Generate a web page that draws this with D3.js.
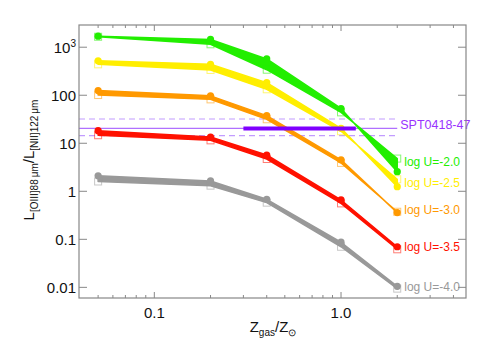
<!DOCTYPE html>
<html>
<head>
<meta charset="utf-8">
<script src="https://cdn.jsdelivr.net/npm/d3@7"></script>
<style>
  body { margin: 0; background: #fff; }
  text { font-family: "Liberation Sans", Arial, sans-serif; }
</style>
</head>
<body>
<div id="wrapper"></div>
<script>
// metallicities of the models
const zgas = [0.05, 0.2, 0.4, 1.0, 2.0];

// model series: filled circles and open squares
const labels = ["log U=-2.0", "log U=-2.5", "log U=-3.0", "log U=-3.5", "log U=-4.0"];
const colors = ["#22ee00", "#ffee00", "#ff9900", "#ff1100", "#999999"];
const circleVals = [
  [1700, 1450, 570, 53, 2.56],
  [520, 440, 183, 20.5, 1.25],
  [125, 97, 37.6, 4.5, 0.36],
  [18.3, 13.5, 5.7, 0.66, 0.07],
  [2.1, 1.64, 0.68, 0.087, 0.0105]
];
const squareVals = [
  [1650, 1150, 340, 44, 4.8],
  [440, 336, 133, 17.8, 1.78],
  [101, 82, 31.6, 3.9, 0.375],
  [14.7, 11.5, 4.7, 0.56, 0.062],
  [1.6, 1.31, 0.58, 0.07, 0.0094]
];

// SPT0418-47 observation
const sptName = "SPT0418-47";
const sptRatio = 20.4;
const sptRange = [14.4, 32];
const sptZ = [0.3, 1.2];
const sptLineEnd = 2.0;

const yTicks = [0.01, 0.1, 1, 10, 100, 1000];
const yTickLabels = ["0.01", "0.1", "1", "10", "100", "10^3"];
const xTicks = [0.1, 1.0];
const xTickLabels = ["0.1", "1.0"];
const xMinor = [0.05, 0.06, 0.07, 0.08, 0.09, 0.2, 0.3, 0.4, 0.5, 0.6, 0.7, 0.8, 0.9, 2, 3, 4];

function draw() {
  const width = 491, height = 350;
  const m = { top: 25, right: 25, bottom: 52, left: 79 };

  const svg = d3.select("#wrapper").append("svg")
    .attr("width", width)
    .attr("height", height);

  const x = d3.scaleLog().domain([0.0395, 4.67]).range([m.left, width - m.right]);
  const y = d3.scaleLog().domain([0.006, 2900]).range([height - m.bottom, m.top]);

  const plot = svg.append("g");

  // observation band
  sptRange.forEach(v => {
    plot.append("line")
      .attr("x1", x.range()[0]).attr("x2", x(sptLineEnd) - 2)
      .attr("y1", y(v)).attr("y2", y(v))
      .attr("stroke", "#c29cff")
      .attr("stroke-width", 1.2)
      .attr("stroke-dasharray", "6,4");
  });
  plot.append("line")
    .attr("x1", x.range()[0]).attr("x2", x(sptLineEnd))
    .attr("y1", y(sptRatio)).attr("y2", y(sptRatio))
    .attr("stroke", "#b070ff")
    .attr("stroke-width", 1.2);

  // series: band between circle line and square line
  const lineGen = d3.line().x(d => x(d[0])).y(d => y(d[1]));
  labels.forEach((lab, i) => {
    const c = colors[i];
    const circ = zgas.map((z, j) => [z, circleVals[i][j]]);
    const sq = zgas.map((z, j) => [z, squareVals[i][j]]);
    const poly = circ.concat(sq.slice().reverse());
    const g = plot.append("g");
    g.append("path")
      .attr("d", lineGen(poly) + "Z")
      .attr("fill", c)
      .attr("stroke", c)
      .attr("stroke-width", 1.5)
      .attr("stroke-linejoin", "round");
    g.selectAll("rect")
      .data(sq)
      .join("rect")
      .attr("x", d => x(d[0]) - 3.5)
      .attr("y", d => y(d[1]) - 3.5)
      .attr("width", 7)
      .attr("height", 7)
      .attr("fill", "none")
      .attr("stroke", c)
      .attr("stroke-opacity", 0.55)
      .attr("stroke-width", 1);
    g.selectAll("circle")
      .data(circ)
      .join("circle")
      .attr("cx", d => x(d[0]))
      .attr("cy", d => y(d[1]))
      .attr("r", 3.6)
      .attr("fill", c);
  });

  // thick SPT bar on top
  plot.append("line")
    .attr("x1", x(sptZ[0])).attr("x2", x(sptZ[1]))
    .attr("y1", y(sptRatio)).attr("y2", y(sptRatio))
    .attr("stroke", "#7f00ff")
    .attr("stroke-width", 4);
  plot.append("text")
    .attr("x", x(sptLineEnd) + 3)
    .attr("y", y(sptRatio) + 0.5)
    .attr("fill", "#9933ff")
    .attr("font-size", 12.5)
    .text(sptName);

  // series labels at right
  const labelY = [166, 187, 214, 251, 291];
  labels.forEach((lab, i) => {
    svg.append("text")
      .attr("x", x(2.0) + 7)
      .attr("y", labelY[i])
      .attr("fill", colors[i])
      .attr("font-size", 12)
      .text(lab);
  });

  // frame
  const [x0, x1] = x.range();
  const [y0, y1] = y.range();
  const axisCol = "#888";
  svg.append("rect")
    .attr("x", x0).attr("y", y1)
    .attr("width", x1 - x0).attr("height", y0 - y1)
    .attr("fill", "none")
    .attr("stroke", axisCol)
    .attr("stroke-width", 1.2);

  // y ticks (left and right, inward)
  yTicks.forEach((t, i) => {
    const yy = y(t);
    svg.append("line").attr("x1", x0).attr("x2", x0 + 8).attr("y1", yy).attr("y2", yy)
      .attr("stroke", axisCol);
    svg.append("line").attr("x1", x1).attr("x2", x1 - 8).attr("y1", yy).attr("y2", yy)
      .attr("stroke", axisCol);
    const lbl = svg.append("text")
      .attr("x", x0 - 3)
      .attr("y", yy + 5.5)
      .attr("text-anchor", "end")
      .attr("font-size", 15)
      .attr("fill", "#111");
    const s = yTickLabels[i];
    if (s.includes("^")) {
      const [b, e] = s.split("^");
      lbl.append("tspan").text(b);
      lbl.append("tspan").attr("dy", -6).attr("font-size", 10).text(e);
    } else {
      lbl.text(s);
    }
  });

  // x ticks (bottom and top, inward)
  xMinor.forEach(t => {
    svg.append("line").attr("x1", x(t)).attr("x2", x(t)).attr("y1", y0).attr("y2", y0 - 3)
      .attr("stroke", axisCol);
    svg.append("line").attr("x1", x(t)).attr("x2", x(t)).attr("y1", y1).attr("y2", y1 + 3)
      .attr("stroke", axisCol);
  });
  xTicks.forEach((t, i) => {
    svg.append("line").attr("x1", x(t)).attr("x2", x(t)).attr("y1", y0).attr("y2", y0 - 6)
      .attr("stroke", axisCol);
    svg.append("line").attr("x1", x(t)).attr("x2", x(t)).attr("y1", y1).attr("y2", y1 + 6)
      .attr("stroke", axisCol);
    svg.append("text")
      .attr("x", x(t))
      .attr("y", y0 + 20)
      .attr("text-anchor", "middle")
      .attr("font-size", 15)
      .attr("fill", "#111")
      .text(xTickLabels[i]);
  });

  // x label
  const xl = svg.append("text")
    .attr("x", 273)
    .attr("y", 332)
    .attr("text-anchor", "middle")
    .attr("font-size", 15)
    .attr("fill", "#111");
  xl.append("tspan").text("Z");
  xl.append("tspan").attr("dy", 4).attr("font-size", 10).text("gas");
  xl.append("tspan").attr("dy", -4).text("/Z");
  xl.append("tspan").attr("dy", 4).attr("font-size", 10).text("\u2299");

  // y label
  const yl = svg.append("text")
    .attr("transform", "translate(34,160) rotate(-90)")
    .attr("text-anchor", "middle")
    .attr("font-size", 15)
    .attr("fill", "#111");
  yl.append("tspan").text("L");
  yl.append("tspan").attr("dy", 4).attr("font-size", 10).text("[OIII]88\u2009\u03bcm");
  yl.append("tspan").attr("dy", -4).text("/L");
  yl.append("tspan").attr("dy", 4).attr("font-size", 10).text("[NII]122\u2009\u03bcm");
}
draw();
</script>
</body>
</html>
